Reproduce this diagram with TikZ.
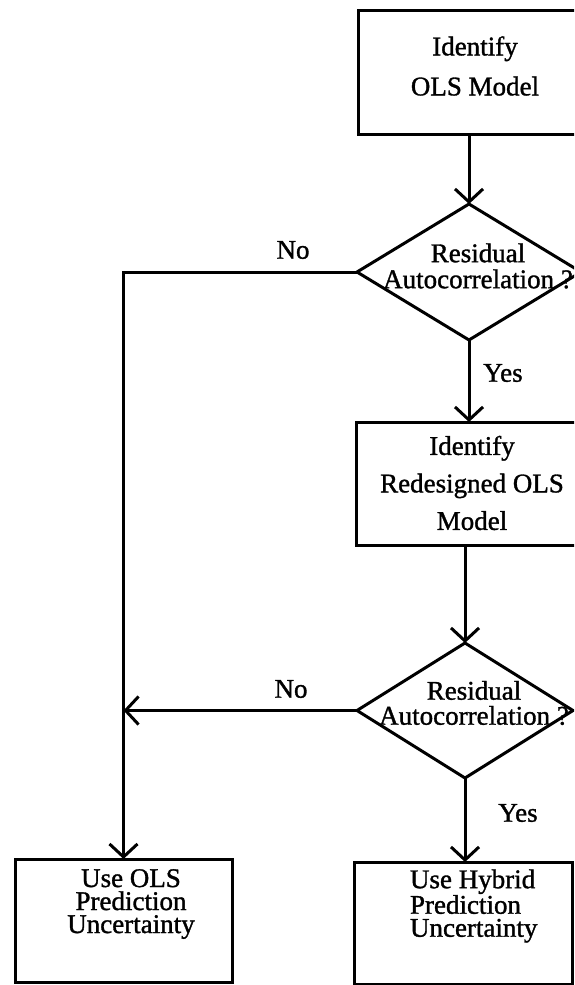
\documentclass[tikz,border=0pt]{standalone}
\usepackage{fontspec}
\setmainfont{Liberation Serif}[RawFeature={embolden=1.2}]
\usetikzlibrary{shapes.geometric,arrows.meta}
\begin{document}
\begin{tikzpicture}[x=1pt,y=-1pt,
  every node/.style={outer sep=0pt},
  flowbox/.style={draw, line width=3pt, rectangle, inner sep=0pt},
  decision/.style={draw, line width=3pt, diamond, inner sep=0pt},
  txt/.style={inner sep=0pt, align=center},
  lab/.style={inner sep=0pt, font=\fontsize{27pt}{27pt}\selectfont},
  conn/.style={line width=3pt, -{Straight Barb[length=13pt,width=28pt]}},
  ]
\useasboundingbox (0,0) rectangle (574,985);
\fill[white] (0,0) rectangle (574,985);
\clip (0,0) rectangle (574,985);

% boxes and decisions
\node[flowbox, minimum width=234pt, minimum height=124pt] (box1) at (475,72) {};
\node[decision, minimum width=224pt, minimum height=136pt] (d1) at (469,272) {};
\node[flowbox, minimum width=228pt, minimum height=123pt] (box2) at (470,483.5) {};
\node[decision, minimum width=216pt, minimum height=135pt] (d2) at (465,710.5) {};
\node[flowbox, minimum width=217pt, minimum height=123pt] (lbox) at (123.5,920.5) {};
\node[flowbox, minimum width=218pt, minimum height=122pt] (rbox) at (463,923) {};

% texts
\node[txt, font=\fontsize{27pt}{40pt}\selectfont] (t1) at (475,66) {Identify\\OLS Model};
\node[txt, font=\fontsize{27pt}{26pt}\selectfont] (td1) at (478,266) {Residual\\Autocorrelation ?};
\node[txt, font=\fontsize{27pt}{37.5pt}\selectfont] (t2) at (472,483) {Identify\\Redesigned OLS\\Model};
\node[txt, font=\fontsize{27pt}{25pt}\selectfont] (td2) at (474,703) {Residual\\Autocorrelation ?};
\node[txt, font=\fontsize{27pt}{23pt}\selectfont] (tl) at (131,904) {Use OLS\\Prediction\\Uncertainty};
\node[txt, align=left, anchor=west, font=\fontsize{27pt}{23pt}\selectfont] (tr) at (410,906) {Use Hybrid\\Prediction\\Uncertainty};

% connectors
\draw[conn] (box1.south -| d1.north) -- (d1.north);
\draw[conn] (d1.west) -| (lbox.north);
\draw[conn] (d1.south) -- (d1.south |- box2.north);
\draw[conn] (box2.south -| d2.north) -- (d2.north);
\draw[conn] (d2.west) -- (d2.west -| lbox.north);
\draw[conn] (d2.south) -- (d2.south |- rbox.north);

% labels
\node[lab] (no1) at (293,250) {No};
\node[lab] (yes1) at (503,373) {Yes};
\node[lab] (no2) at (291,689) {No};
\node[lab] (yes2) at (518,813) {Yes};
\end{tikzpicture}
\end{document}
